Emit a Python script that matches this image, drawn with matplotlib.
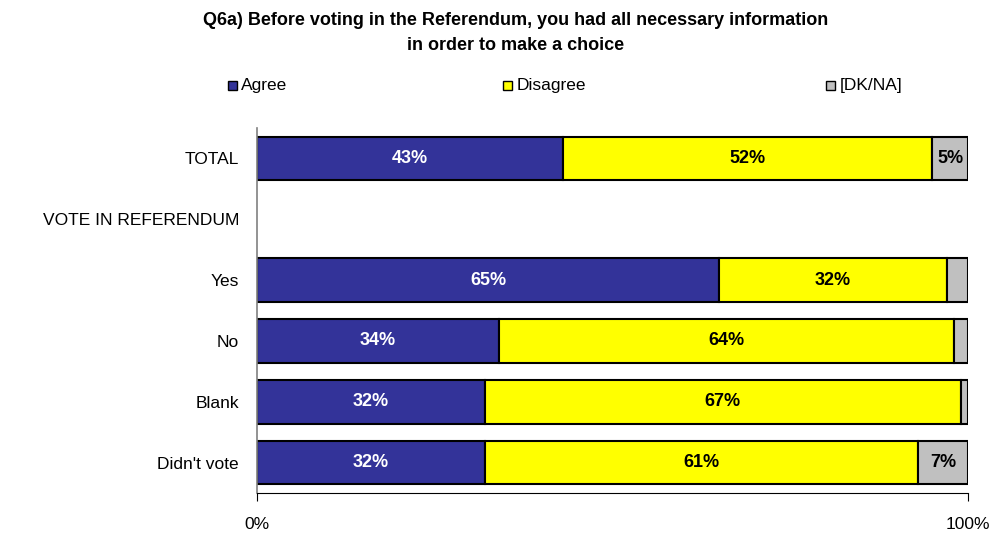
import matplotlib.pyplot as plt
import numpy as np

plt.rcParams['font.family'] = ['Liberation Sans', 'DejaVu Sans']

categories = ['TOTAL', 'VOTE IN REFERENDUM', 'Yes', 'No', 'Blank', "Didn't vote"]
agree = [43, None, 65, 34, 32, 32]
disagree = [52, None, 32, 64, 67, 61]
dkna = [5, None, 3, 2, 1, 7]
series_names = ['Agree', 'Disagree', '[DK/NA]']
colors = ['#333399', '#FFFF00', '#C0C0C0']
text_colors = ['white', 'black', 'black']

fig = plt.figure(figsize=(9.94, 5.35), dpi=100)
ax = fig.add_axes([0.2586, 0.0785, 0.7152, 0.6822])

y = np.arange(len(categories))
for i, cat in enumerate(categories):
    if agree[i] is None:
        continue
    left = 0
    for j, vals in enumerate([agree, disagree, dkna]):
        v = vals[i]
        ax.barh(i, v, left=left, height=0.72, color=colors[j],
                edgecolor='black', linewidth=1.5)
        # small segments stay unlabelled
        if v >= 5:
            ax.text(left + v / 2, i, f'{v}%', ha='center', va='center',
                    fontsize=13, fontweight='bold', color=text_colors[j])
        left += v

ax.set_xlim(0, 100)
ax.set_ylim(len(categories) - 0.5, -0.5)
ax.set_yticks(y)
ax.set_yticklabels(categories, fontsize=12.5)
ax.tick_params(axis='y', length=0, pad=13)
ax.set_xticks([0, 100])
ax.set_xticklabels(['0%', '100%'], fontsize=12.5)
ax.tick_params(axis='x', length=6, pad=11, color='black')

for s in ['top', 'right']:
    ax.spines[s].set_visible(False)
ax.spines['left'].set_color('#808080')
ax.spines['left'].set_linewidth(1.2)
ax.spines['bottom'].set_color('black')

fig.text(0.519, 0.978, 'Q6a) Before voting in the Referendum, you had all necessary information\nin order to make a choice',
         ha='center', va='top', fontsize=13, fontweight='bold', linespacing=1.6)

# legend entries spread across the top
leg_x = [0.229, 0.506, 0.831]
for name, c, lx in zip(series_names, colors, leg_x):
    fig.patches.append(plt.Rectangle((lx, 0.832), 0.0095, 0.0175, transform=fig.transFigure,
                                     facecolor=c, edgecolor='black', linewidth=1))
    fig.text(lx + 0.0135, 0.84, name, ha='left', va='center', fontsize=12.5)

fig.savefig('out.png', dpi=100)
